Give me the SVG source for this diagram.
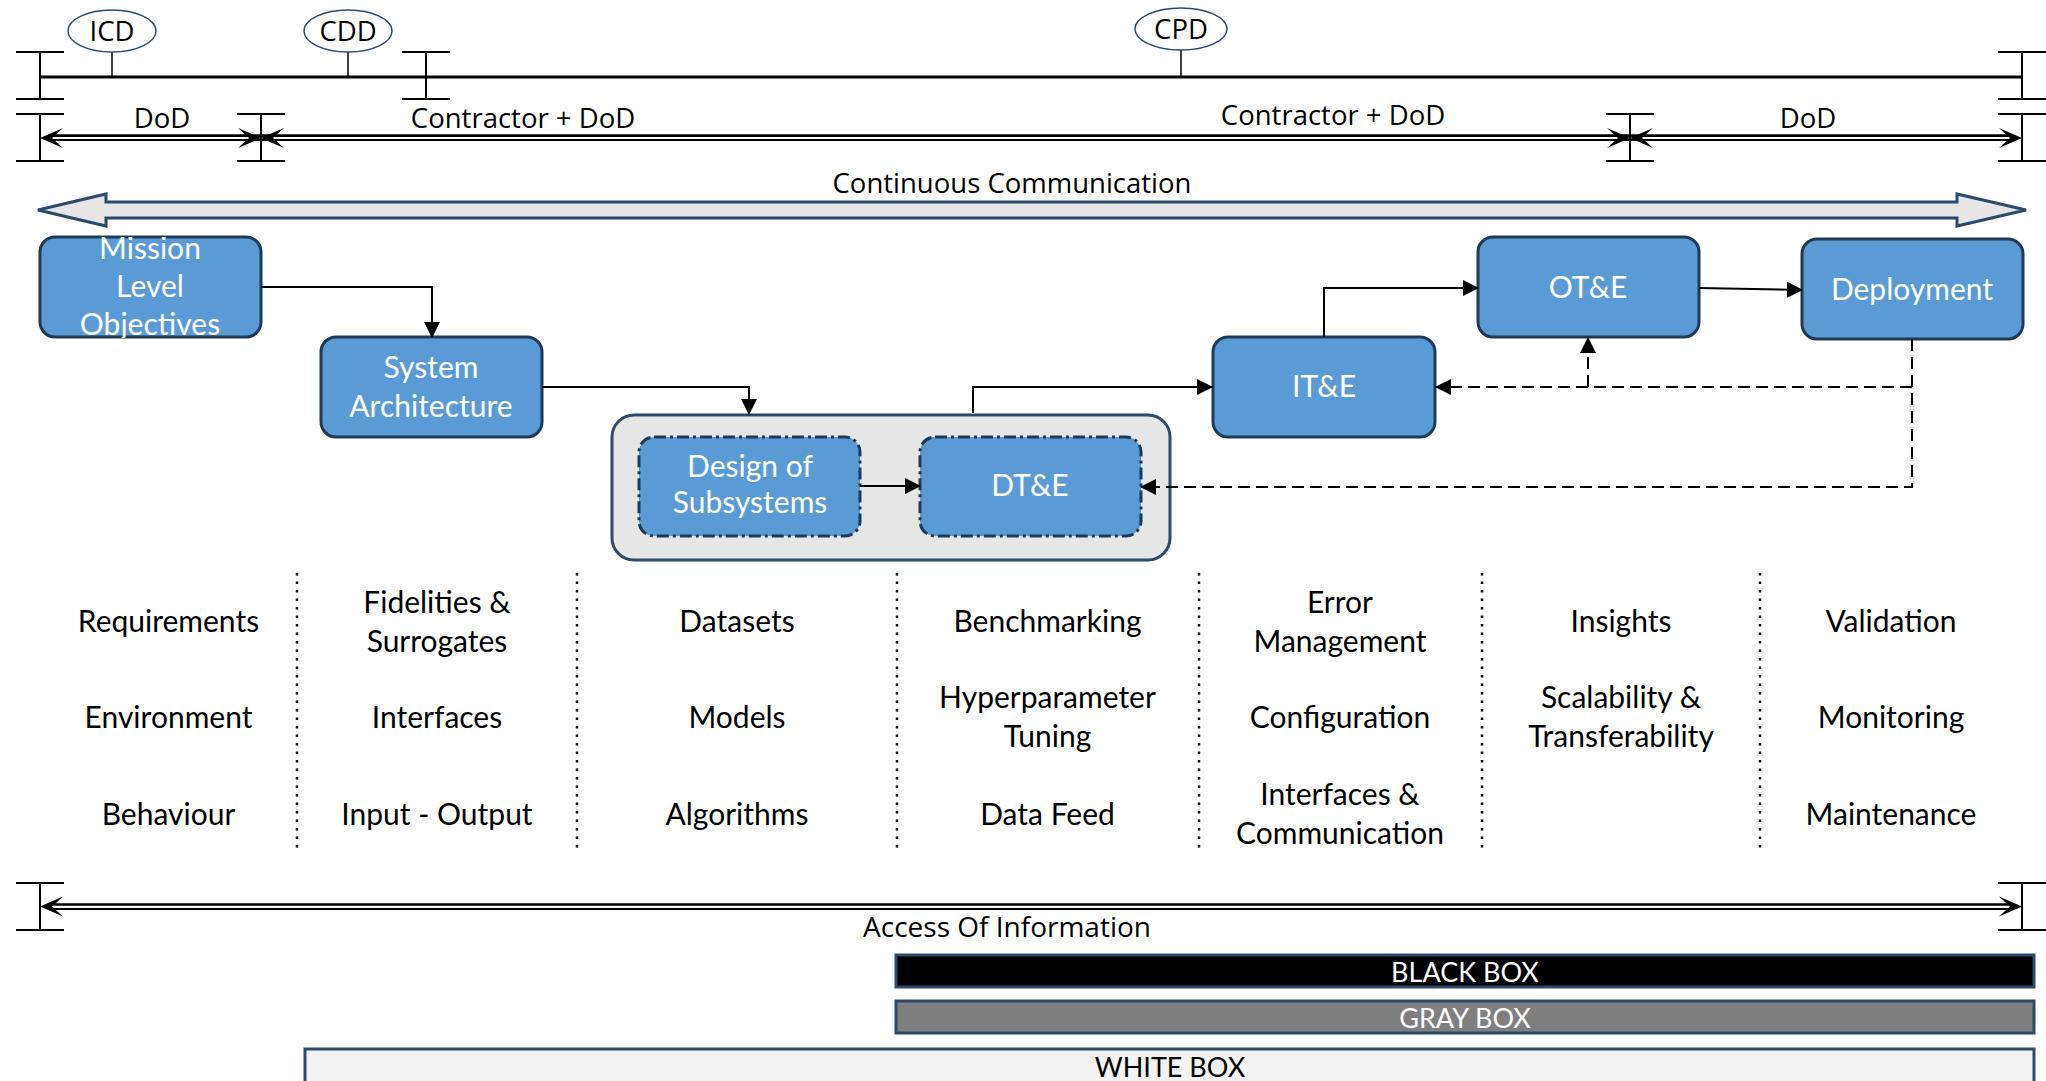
<svg xmlns="http://www.w3.org/2000/svg" width="2046" height="1081" viewBox="0 0 2046 1081">
<style>
.lbl{font-family:"Open Sans","Liberation Sans",sans-serif;font-size:27.5px;fill:#000;text-anchor:middle}
.node rect{fill:#5b9bd5;stroke:#1f3a56;stroke-width:3}
.nt{font-family:Lato,"Liberation Sans",sans-serif;font-size:30px;fill:#fff;text-anchor:middle}
.gt{font-family:Lato,"Liberation Sans",sans-serif;font-size:30px;fill:#000;text-anchor:middle}
.bt{font-family:Lato,"Liberation Sans",sans-serif;font-size:27px;text-anchor:middle}
.ib{stroke:#000;stroke-width:2;fill:none}
.conn{stroke:#000;stroke-width:2;fill:none}
.dash{stroke:#000;stroke-width:2;fill:none;stroke-dasharray:12 6}
.sep{stroke:#000;stroke-width:2.5;stroke-dasharray:2.5 6}
.dd{stroke-dasharray:12 4 3 4}
.ell{fill:#fff;stroke:#2c4a6b;stroke-width:1.5}
.stem{stroke:#000;stroke-width:1.5}
.dl1{stroke:#000;stroke-width:2.7}
.dl2{stroke:#000;stroke-width:2}
</style>
<defs>
<g id="ibeam"><path d="M-24,0 H24 M0,0 V47 M-24,47 H24" class="ib"/></g>
<path id="stealth" d="M0,0 L-23,-10 L-12,0 L-23,10 Z" fill="#000"/>
<marker id="tri" viewBox="0 0 16 16" markerWidth="16" markerHeight="16" refX="15" refY="8" orient="auto" markerUnits="userSpaceOnUse">
<path d="M0,0 L16,8 L0,16 Z" fill="#000"/>
</marker>
<clipPath id="clipMission"><rect x="40" y="237" width="221" height="101" rx="15"/></clipPath>
</defs>

<g id="timeline">
<line x1="40" y1="77" x2="2022" y2="77" stroke="#000" stroke-width="3"/>
<use href="#ibeam" x="40" y="52"/>
<use href="#ibeam" x="426" y="52"/>
<use href="#ibeam" x="2022" y="52"/>
<line class="stem" x1="112" y1="52" x2="112" y2="77"/>
<line class="stem" x1="348" y1="52" x2="348" y2="77"/>
<line class="stem" x1="1181" y1="50" x2="1181" y2="77"/>
<ellipse class="ell" cx="112" cy="31" rx="44" ry="21"/>
<ellipse class="ell" cx="348" cy="31" rx="44" ry="21"/>
<ellipse class="ell" cx="1181" cy="29" rx="46" ry="21"/>
<text class="lbl" x="112" y="41">ICD</text>
<text class="lbl" x="348" y="41">CDD</text>
<text class="lbl" x="1181" y="39">CPD</text>

<use href="#ibeam" x="40" y="114"/>
<use href="#ibeam" x="261" y="114"/>
<use href="#ibeam" x="1630" y="114"/>
<use href="#ibeam" x="2022" y="114"/>
<line class="dl1" x1="50" y1="135.7" x2="2012" y2="135.7"/>
<line class="dl2" x1="50" y1="140" x2="2012" y2="140"/>
<use href="#stealth" transform="translate(40,138) rotate(180)"/>
<use href="#stealth" transform="translate(261,138)"/>
<use href="#stealth" transform="translate(261,138) rotate(180)"/>
<use href="#stealth" transform="translate(1630,138)"/>
<use href="#stealth" transform="translate(1630,138) rotate(180)"/>
<use href="#stealth" transform="translate(2022,138)"/>
<text class="lbl" x="162" y="128">DoD</text>
<text class="lbl" x="523" y="128">Contractor + DoD</text>
<text class="lbl" x="1333" y="125">Contractor + DoD</text>
<text class="lbl" x="1808" y="128">DoD</text>
</g>

<g id="continuous-communication">
<path d="M38,210 L106,194 L106,202 L1957,202 L1957,194 L2026,210 L1957,226 L1957,218 L106,218 L106,226 Z" fill="#e6e6e6" stroke="#2c4a6b" stroke-width="3" stroke-linejoin="miter"/>
<text class="lbl" x="1012" y="193">Continuous Communication</text>
</g>

<g id="node-mission" class="node">
<rect x="40" y="237" width="221" height="100" rx="15"/>
<g clip-path="url(#clipMission)">
<text class="nt" x="150" y="259">Mission</text>
<text class="nt" x="150" y="297">Level</text>
<text class="nt" x="150" y="335">Objectives</text>
</g>
</g>
<g id="node-system" class="node">
<rect x="321" y="337" width="221" height="100" rx="15"/>
<text class="nt" x="431" y="378">System</text>
<text class="nt" x="431" y="417">Architecture</text>
</g>
<g id="node-container">
<rect x="612" y="415" width="558" height="145" rx="22" fill="#e6e6e6" stroke="#2c4a6b" stroke-width="3"/>
</g>
<g id="node-design" class="node">
<rect class="dd" x="639" y="437" width="221" height="99" rx="15"/>
<text class="nt" x="750" y="477">Design of</text>
<text class="nt" x="750" y="513">Subsystems</text>
</g>
<g id="node-dte" class="node">
<rect class="dd" x="920" y="437" width="221" height="99" rx="15"/>
<text class="nt" x="1030" y="496">DT&amp;E</text>
</g>
<g id="node-ite" class="node">
<rect x="1213" y="337" width="222" height="100" rx="15"/>
<text class="nt" x="1324" y="397">IT&amp;E</text>
</g>
<g id="node-ote" class="node">
<rect x="1478" y="237" width="221" height="100" rx="15"/>
<text class="nt" x="1588" y="298">OT&amp;E</text>
</g>
<g id="node-deploy" class="node">
<rect x="1802" y="239" width="221" height="100" rx="15"/>
<text class="nt" x="1912" y="300">Deployment</text>
</g>

<g id="connectors">
<path class="conn" d="M261,287 H432 V337" marker-end="url(#tri)"/>
<path class="conn" d="M542,387 H749 V414" marker-end="url(#tri)"/>
<path class="conn" d="M860,486 H920" marker-end="url(#tri)"/>
<path class="conn" d="M973,413 V387 H1212" marker-end="url(#tri)"/>
<path class="conn" d="M1324,337 V288 H1478" marker-end="url(#tri)"/>
<path class="conn" d="M1699,288 L1802,290" marker-end="url(#tri)"/>
<path class="dash" d="M1912,339 V487 H1141" marker-end="url(#tri)"/>
<path class="dash" d="M1912,387 H1436" marker-end="url(#tri)"/>
<path class="dash" d="M1588,387 V338" marker-end="url(#tri)"/>
</g>

<g id="separators">
<line class="sep" x1="297" y1="573" x2="297" y2="853"/>
<line class="sep" x1="577" y1="573" x2="577" y2="853"/>
<line class="sep" x1="897" y1="573" x2="897" y2="853"/>
<line class="sep" x1="1199" y1="573" x2="1199" y2="853"/>
<line class="sep" x1="1482" y1="573" x2="1482" y2="853"/>
<line class="sep" x1="1760" y1="573" x2="1760" y2="853"/>
</g>

<g id="grid-text">
<text class="gt" x="168.5" y="632">Requirements</text>
<text class="gt" x="168.5" y="728">Environment</text>
<text class="gt" x="168.5" y="825">Behaviour</text>
<text class="gt" x="437" y="613">Fidelities &amp;</text>
<text class="gt" x="437" y="652">Surrogates</text>
<text class="gt" x="437" y="728">Interfaces</text>
<text class="gt" x="437" y="825">Input - Output</text>
<text class="gt" x="737" y="632">Datasets</text>
<text class="gt" x="737" y="728">Models</text>
<text class="gt" x="737" y="825">Algorithms</text>
<text class="gt" x="1047.5" y="632">Benchmarking</text>
<text class="gt" x="1047.5" y="708">Hyperparameter</text>
<text class="gt" x="1047.5" y="747">Tuning</text>
<text class="gt" x="1047.5" y="825">Data Feed</text>
<text class="gt" x="1340" y="613">Error</text>
<text class="gt" x="1340" y="652">Management</text>
<text class="gt" x="1340" y="728">Configuration</text>
<text class="gt" x="1340" y="805">Interfaces &amp;</text>
<text class="gt" x="1340" y="844">Communication</text>
<text class="gt" x="1621" y="632">Insights</text>
<text class="gt" x="1621" y="708">Scalability &amp;</text>
<text class="gt" x="1621" y="747">Transferability</text>
<text class="gt" x="1891" y="632">Validation</text>
<text class="gt" x="1891" y="728">Monitoring</text>
<text class="gt" x="1891" y="825">Maintenance</text>
</g>

<g id="access">
<use href="#ibeam" x="40" y="883"/>
<use href="#ibeam" x="2022" y="883"/>
<line class="dl1" x1="50" y1="904.5" x2="2012" y2="904.5"/>
<line class="dl2" x1="50" y1="909" x2="2012" y2="909"/>
<use href="#stealth" transform="translate(40,906.5) rotate(180)"/>
<use href="#stealth" transform="translate(2022,906.5)"/>
<text class="lbl" x="1007" y="937" style="font-size:28px">Access Of Information</text>
</g>

<g id="black-box">
<rect x="896" y="955" width="1138" height="32" fill="#000" stroke="#2c4a6b" stroke-width="3"/>
<text class="bt" x="1465" y="982" fill="#fff">BLACK BOX</text>
</g>
<g id="gray-box">
<rect x="896" y="1001" width="1138" height="32" fill="#7f7f7f" stroke="#2c4a6b" stroke-width="3"/>
<text class="bt" x="1465" y="1028" fill="#fff">GRAY BOX</text>
</g>
<g id="white-box">
<rect x="305" y="1049" width="1729" height="44" fill="#f2f2f2" stroke="#2c4a6b" stroke-width="3"/>
<text class="bt" x="1170" y="1077" fill="#000">WHITE BOX</text>
</g>
</svg>
